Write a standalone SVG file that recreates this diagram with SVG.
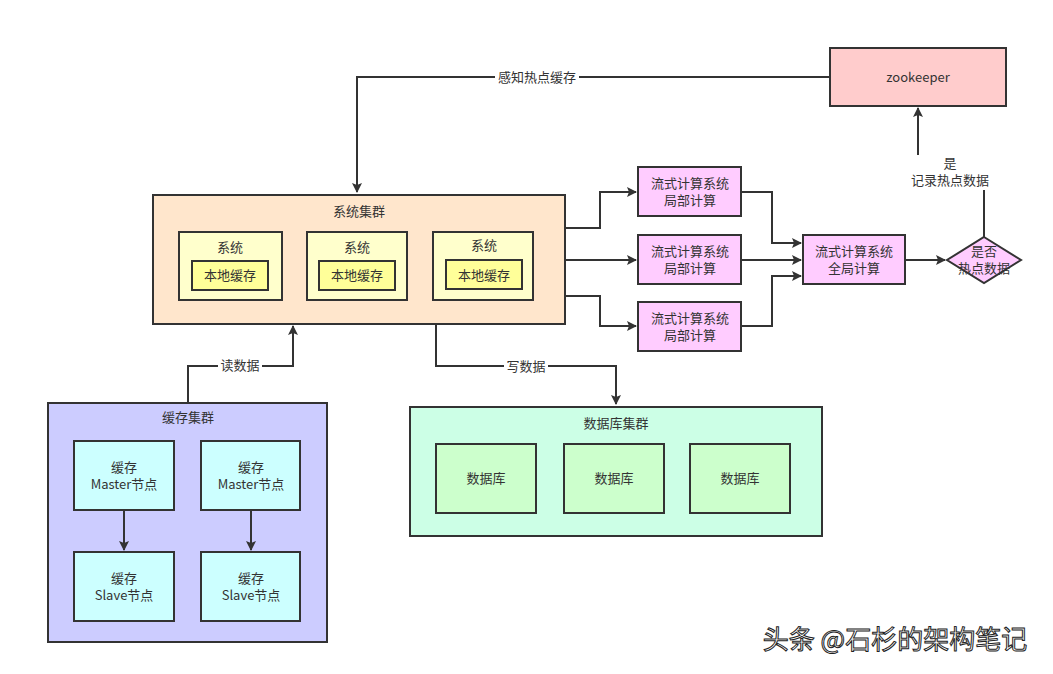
<svg xmlns="http://www.w3.org/2000/svg" width="1053" height="674" viewBox="0 0 1053 674">
<style>
.b{stroke:#333;stroke-width:2}
.t{font-family:"Noto Sans CJK SC","Liberation Sans",sans-serif;font-size:13px;fill:#333;text-anchor:middle}
.c{fill:none;stroke:#333;stroke-width:2}
.lb{fill:#fff}
</style>
<defs>
<marker id="a" markerWidth="10" markerHeight="10" refX="9" refY="5" orient="auto" markerUnits="userSpaceOnUse" viewBox="0 0 10 10">
<path d="M0,0 L10,5 L0,10 L2,5 Z" fill="#333"/>
</marker>
</defs>
<rect width="1053" height="674" fill="#fff"/>

<g id="zookeeper">
<rect class="b" x="830" y="48" width="176" height="58" fill="#ffcccc"/>
<text class="t" x="918" y="82">zookeeper</text>
</g>

<g id="system-cluster">
<rect class="b" x="153" y="195" width="412" height="129" fill="#ffe6cc"/>
<text class="t" x="359" y="216">系统集群</text>
</g>
<g id="system1">
<rect class="b" x="179" y="232" width="103" height="68" fill="#ffffcc"/>
<text class="t" x="230" y="252">系统</text>
<rect class="b" x="192" y="261" width="76" height="29" fill="#ffff99"/>
<text class="t" x="230" y="280">本地缓存</text>
</g>
<g id="system2">
<rect class="b" x="307" y="232" width="100" height="68" fill="#ffffcc"/>
<text class="t" x="357" y="252">系统</text>
<rect class="b" x="319" y="261" width="76" height="29" fill="#ffff99"/>
<text class="t" x="357" y="280">本地缓存</text>
</g>
<g id="system3">
<rect class="b" x="433" y="232" width="100" height="68" fill="#ffffcc"/>
<text class="t" x="484" y="250">系统</text>
<rect class="b" x="446" y="260" width="76" height="29" fill="#ffff99"/>
<text class="t" x="484" y="280">本地缓存</text>
</g>

<g id="stream1">
<rect class="b" x="638" y="167" width="103" height="49" fill="#ffccff"/>
<text class="t" x="690" y="188">流式计算系统</text>
<text class="t" x="690" y="205">局部计算</text>
</g>
<g id="stream2">
<rect class="b" x="638" y="235" width="103" height="49" fill="#ffccff"/>
<text class="t" x="690" y="256">流式计算系统</text>
<text class="t" x="690" y="273">局部计算</text>
</g>
<g id="stream3">
<rect class="b" x="638" y="302" width="103" height="49" fill="#ffccff"/>
<text class="t" x="690" y="323">流式计算系统</text>
<text class="t" x="690" y="340">局部计算</text>
</g>
<g id="global">
<rect class="b" x="803" y="235" width="102" height="49" fill="#ffccff"/>
<text class="t" x="854" y="256">流式计算系统</text>
<text class="t" x="854" y="273">全局计算</text>
</g>
<g id="decision">
<path class="b" d="M984,237 L1021,260 L984,283 L947,260 Z" fill="#ffccff"/>
<text class="t" x="984" y="256">是否</text>
<text class="t" x="984" y="273">热点数据</text>
</g>

<g id="cache-cluster">
<rect class="b" x="48" y="403" width="279" height="239" fill="#ccccff"/>
<text class="t" x="188" y="422">缓存集群</text>
</g>
<g id="master1">
<rect class="b" x="74" y="441" width="100" height="69" fill="#ccffff"/>
<text class="t" x="124" y="472">缓存</text>
<text class="t" x="124" y="489">Master节点</text>
</g>
<g id="master2">
<rect class="b" x="201" y="441" width="99" height="69" fill="#ccffff"/>
<text class="t" x="251" y="472">缓存</text>
<text class="t" x="251" y="489">Master节点</text>
</g>
<g id="slave1">
<rect class="b" x="74" y="552" width="100" height="69" fill="#ccffff"/>
<text class="t" x="124" y="583">缓存</text>
<text class="t" x="124" y="600">Slave节点</text>
</g>
<g id="slave2">
<rect class="b" x="201" y="552" width="99" height="69" fill="#ccffff"/>
<text class="t" x="251" y="583">缓存</text>
<text class="t" x="251" y="600">Slave节点</text>
</g>

<g id="db-cluster">
<rect class="b" x="410" y="407" width="412" height="129" fill="#ccffe6"/>
<text class="t" x="616" y="428">数据库集群</text>
</g>
<g id="db1">
<rect class="b" x="436" y="444" width="100" height="69" fill="#ccffcc"/>
<text class="t" x="486" y="483">数据库</text>
</g>
<g id="db2">
<rect class="b" x="564" y="444" width="100" height="69" fill="#ccffcc"/>
<text class="t" x="614" y="483">数据库</text>
</g>
<g id="db3">
<rect class="b" x="690" y="444" width="100" height="69" fill="#ccffcc"/>
<text class="t" x="740" y="483">数据库</text>
</g>

<g id="connectors">
<path class="c" d="M830,77 H357 V192" marker-end="url(#a)"/>
<path class="c" d="M565,228 H600 V192 H636" marker-end="url(#a)"/>
<path class="c" d="M565,260 H636" marker-end="url(#a)"/>
<path class="c" d="M565,296 H600 V326 H636" marker-end="url(#a)"/>
<path class="c" d="M741,192 H772 V243 H801" marker-end="url(#a)"/>
<path class="c" d="M741,260 H801" marker-end="url(#a)"/>
<path class="c" d="M741,326 H772 V276 H801" marker-end="url(#a)"/>
<path class="c" d="M905,260 H945" marker-end="url(#a)"/>
<path class="c" d="M984,237 V172 H918 V108" marker-end="url(#a)"/>
<path class="c" d="M436,325 V366 H616 V404" marker-end="url(#a)"/>
<path class="c" d="M188,402 V366 H293 V326" marker-end="url(#a)"/>
<path class="c" d="M124,511 V550" marker-end="url(#a)"/>
<path class="c" d="M251,511 V550" marker-end="url(#a)"/>
<rect class="lb" x="495" y="70" width="84" height="15"/>
<text class="t" x="537" y="82">感知热点缓存</text>
<rect class="lb" x="906" y="155" width="90" height="35"/>
<text class="t" x="950" y="168">是</text>
<text class="t" x="950" y="185">记录热点数据</text>
<rect class="lb" x="218" y="359" width="44" height="15"/>
<text class="t" x="240" y="370">读数据</text>
<rect class="lb" x="504" y="359" width="44" height="15"/>
<text class="t" x="526" y="371">写数据</text>
</g>

<text x="895" y="649" font-family="Noto Sans CJK SC,sans-serif" font-size="26" fill="#fff" stroke="#222" stroke-width="1" text-anchor="middle">头条 @石杉的架构笔记</text>
</svg>
